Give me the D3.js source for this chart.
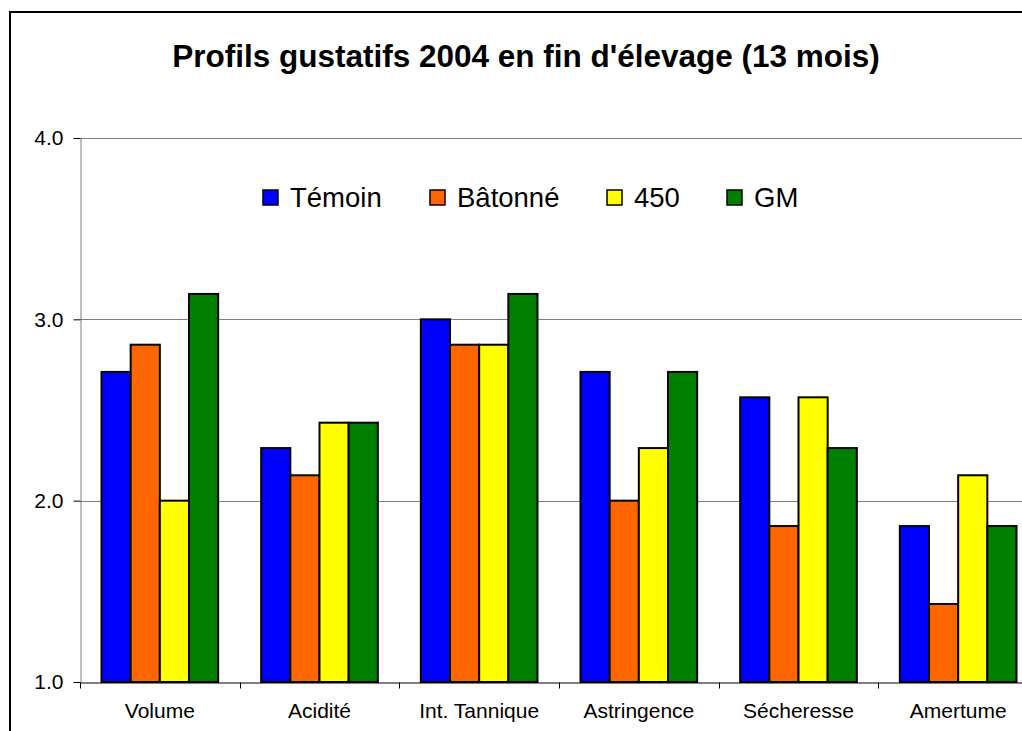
<!DOCTYPE html>
<html>
<head>
<meta charset="utf-8">
<script src="https://cdn.jsdelivr.net/npm/d3@7"></script>
<style>
  body { margin: 0; background: #fff; }
  svg { display: block; font-family: "Liberation Sans", Arial, sans-serif; }
</style>
</head>
<body>
<div id="chart"></div>
<script>
// chart data
var categories = ["Volume", "Acidité", "Int. Tannique", "Astringence", "Sécheresse", "Amertume"];
var seriesNames = ["Témoin", "Bâtonné", "450", "GM"];
var temoin  = [2.71, 2.29, 3.00, 2.71, 2.57, 1.86];
var batonne = [2.86, 2.14, 2.86, 2.00, 1.86, 1.43];
var s450    = [2.00, 2.43, 2.86, 2.29, 2.57, 2.14];
var gm      = [3.14, 2.43, 3.14, 2.71, 2.29, 1.86];
var yTicks = [1.0, 2.0, 3.0, 4.0];

var colors = ["#0000ff", "#ff6600", "#ffff00", "#008000"];
var seriesValues = [temoin, batonne, s450, gm];

var width = 1022, height = 731;
// plot area (note: "top" is reserved on window, so use plot_* names)
var plot_left = 80, plot_right = 1038, plot_top = 138, plot_bottom = 682;

var svg = d3.select("#chart").append("svg")
  .attr("width", width)
  .attr("height", height);

// outer frame (only left and top are visible in the window)
svg.append("rect")
  .attr("x", 10).attr("y", 12)
  .attr("width", 1100).attr("height", 800)
  .attr("fill", "none")
  .attr("stroke", "#000")
  .attr("stroke-width", 2);

svg.append("text")
  .attr("x", 526).attr("y", 67)
  .attr("text-anchor", "middle")
  .attr("font-size", "31.5px")
  .attr("font-weight", "bold")
  .text("Profils gustatifs 2004 en fin d'élevage (13 mois)");

var x = d3.scaleBand()
  .domain(categories)
  .range([plot_left, plot_right])
  .paddingInner(0)
  .paddingOuter(0);

var xInner = d3.scaleBand()
  .domain(seriesNames)
  .range([21.5, x.bandwidth() - 21.5]);

var y = d3.scaleLinear()
  .domain([1, 4])
  .range([plot_bottom, plot_top]);

// gridlines
svg.append("g")
  .selectAll("line")
  .data(yTicks.slice(1))
  .enter().append("line")
  .attr("x1", plot_left).attr("x2", plot_right)
  .attr("y1", function(d) { return Math.round(y(d)) + 0.5; })
  .attr("y2", function(d) { return Math.round(y(d)) + 0.5; })
  .attr("stroke", "#808080")
  .attr("stroke-width", 1);

// bars
var groups = svg.append("g")
  .selectAll("g")
  .data(categories)
  .enter().append("g")
  .attr("transform", function(d) { return "translate(" + x(d) + ",0)"; });

groups.selectAll("rect")
  .data(function(d, i) {
    return seriesNames.map(function(s, j) { return { s: s, v: seriesValues[j][i], j: j }; });
  })
  .enter().append("rect")
  .attr("x", function(d) { return xInner(d.s); })
  .attr("y", function(d) { return y(d.v); })
  .attr("width", xInner.bandwidth())
  .attr("height", function(d) { return plot_bottom - y(d.v); })
  .attr("fill", function(d) { return colors[d.j]; })
  .attr("stroke", "#000")
  .attr("stroke-width", 2);

// y axis
var yAxis = svg.append("g")
  .attr("transform", "translate(" + (plot_left + 0.5) + ",0)")
  .call(d3.axisLeft(y).tickValues(yTicks).tickFormat(d3.format(".1f")).tickSize(7).tickPadding(10));
yAxis.select(".domain").attr("stroke", "#808080");
yAxis.selectAll(".tick line").attr("stroke", "#000");
yAxis.selectAll("text")
  .attr("font-size", "21px")
  .attr("font-family", "Liberation Sans, Arial, sans-serif")
  .attr("fill", "#000");

// x axis
var xAxis = svg.append("g")
  .attr("transform", "translate(0," + (plot_bottom + 0.5) + ")")
  .call(d3.axisBottom(x).tickSize(0).tickPadding(21));
xAxis.select(".domain").attr("stroke", "#000");
xAxis.selectAll("text")
  .attr("font-size", "21px")
  .attr("font-family", "Liberation Sans, Arial, sans-serif")
  .attr("fill", "#000");
// tick marks between categories
xAxis.selectAll("line.sep")
  .data(d3.range(categories.length + 1))
  .enter().append("line")
  .attr("class", "sep")
  .attr("x1", function(i) { return Math.round(plot_left + i * x.step()) + 0.5; })
  .attr("x2", function(i) { return Math.round(plot_left + i * x.step()) + 0.5; })
  .attr("y1", 0).attr("y2", 6)
  .attr("stroke", "#000");

// legend
var legendX = [263, 430, 607, 727];
var legend = svg.append("g")
  .selectAll("g")
  .data(seriesNames)
  .enter().append("g")
  .attr("transform", function(d, i) { return "translate(" + legendX[i] + ",190)"; });
legend.append("rect")
  .attr("width", 15).attr("height", 15)
  .attr("fill", function(d, i) { return colors[i]; })
  .attr("stroke", "#000")
  .attr("stroke-width", 1.5);
legend.append("text")
  .attr("x", 27).attr("y", 17)
  .attr("font-size", "27.5px")
  .text(function(d) { return d; });
</script>
</body>
</html>
